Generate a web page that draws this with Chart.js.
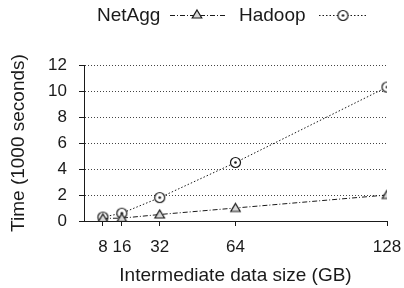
<!DOCTYPE html>
<html>
<head>
<meta charset="utf-8">
<script src="https://cdn.jsdelivr.net/npm/chart.js@4.4.1/dist/chart.umd.min.js"></script>
<style>
  html, body { margin: 0; padding: 0; background: #fff; }
</style>
</head>
<body>
<canvas id="chart" width="404" height="288"></canvas>
<script>
// datos
const sizes = [8, 16, 32, 64, 128];
const netAgg = [0.2, 0.22, 0.5, 1.0, 2.0];
const hadoop = [0.3, 0.6, 1.8, 4.5, 10.3];
const yTicks = [0, 2, 4, 6, 8, 10, 12];
const seriesNames = ["NetAgg", "Hadoop"];

const FONT = "'Liberation Sans', Arial, sans-serif";
const INK = "#1a1a1a";
const dashNetAgg = [5, 2, 1, 2];
const dashHadoop = [1.5, 2];

// marcador circulo con punto
const circleDot = document.createElement("canvas");
circleDot.width = 13;
circleDot.height = 13;
{
  const c = circleDot.getContext("2d");
  c.fillStyle = "#fff";
  c.beginPath();
  c.arc(6.5, 6.5, 5, 0, Math.PI * 2);
  c.fill();
  c.strokeStyle = INK;
  c.lineWidth = 1.2;
  c.stroke();
  c.fillStyle = INK;
  c.beginPath();
  c.arc(6.5, 6.5, 1.3, 0, Math.PI * 2);
  c.fill();
}

const drawTriangle = (ctx, x, y, r) => {
  ctx.beginPath();
  ctx.moveTo(x, y - r);
  ctx.lineTo(x + r * 0.95, y + r * 0.6);
  ctx.lineTo(x - r * 0.95, y + r * 0.6);
  ctx.closePath();
  ctx.fillStyle = "#d8d8d8";
  ctx.fill();
  ctx.stroke();
};

// leyenda arriba: texto y luego muestra de linea
const topLegend = {
  id: "topLegend",
  afterDraw(chart) {
    const ctx = chart.ctx;
    const y = 15;
    ctx.save();
    ctx.font = "19px " + FONT;
    ctx.fillStyle = INK;
    ctx.textBaseline = "middle";
    ctx.textAlign = "left";
    ctx.fillText(seriesNames[0], 97, y + 1);
    ctx.fillText(seriesNames[1], 239, y + 1);

    ctx.strokeStyle = INK;
    ctx.lineWidth = 1;
    ctx.setLineDash(dashNetAgg);
    ctx.beginPath();
    ctx.moveTo(170, y + 0.5);
    ctx.lineTo(225, y + 0.5);
    ctx.stroke();
    ctx.setLineDash(dashHadoop);
    ctx.beginPath();
    ctx.moveTo(319, y + 0.5);
    ctx.lineTo(368, y + 0.5);
    ctx.stroke();
    ctx.setLineDash([]);
    ctx.lineWidth = 1.2;
    drawTriangle(ctx, 197, y, 5);
    ctx.drawImage(circleDot, 343 - 6.5, y - 6);
    ctx.restore();
  }
};

const triangleCanvas = document.createElement("canvas");
triangleCanvas.width = 13;
triangleCanvas.height = 13;
{
  const c = triangleCanvas.getContext("2d");
  c.strokeStyle = INK;
  c.lineWidth = 1.2;
  drawTriangle(c, 6.5, 7, 5);
}

const ctx = document.getElementById("chart");
const chart = new Chart(ctx, {
  type: "line",
  data: {
    labels: sizes,
    datasets: [
      {
        label: seriesNames[0],
        data: sizes.map((s, i) => ({ x: s, y: netAgg[i] })),
        borderColor: INK,
        borderWidth: 1,
        borderDash: dashNetAgg,
        pointStyle: triangleCanvas,
        pointRadius: 6,
        fill: false,
        tension: 0,
      },
      {
        label: seriesNames[1],
        data: sizes.map((s, i) => ({ x: s, y: hadoop[i] })),
        borderColor: INK,
        borderWidth: 1,
        borderDash: dashHadoop,
        pointStyle: circleDot,
        pointRadius: 6,
        fill: false,
        tension: 0,
      },
    ],
  },
  options: {
    responsive: false,
    animation: false,
    layout: { padding: { top: 65, right: 17, left: 0, bottom: 0 } },
    plugins: {
      legend: { display: false },
      tooltip: { enabled: false },
    },
    scales: {
      x: {
        type: "linear",
        min: 0,
        max: 128,
        afterBuildTicks: (s) => { s.ticks = sizes.map((v) => ({ value: v })); },
        afterFit: (s) => { s.height = 67; s.paddingLeft = 0; s.paddingRight = 0; },
        grid: { drawOnChartArea: false, drawTicks: true, tickLength: 5, tickColor: INK, color: INK },
        border: { display: true, color: INK, width: 1 },
        ticks: { color: INK, padding: 11, maxRotation: 0, autoSkip: false, font: { family: FONT, size: 17 } },
        title: {
          display: true,
          text: "Intermediate data size (GB)",
          color: INK,
          font: { family: FONT, size: 19 },
          padding: { top: 0, bottom: 1 },
        },
      },
      y: {
        min: 0,
        max: 12,
        afterBuildTicks: (s) => { s.ticks = yTicks.map((v) => ({ value: v })); },
        afterFit: (s) => { s.width = 84; },
        grid: {
          color: "#444",
          lineWidth: 1,
          drawTicks: true,
          tickLength: 5,
          tickColor: INK,
          tickBorderDash: [],
        },
        border: { display: true, color: INK, width: 1, dash: [1, 2] },
        ticks: { color: INK, padding: 12, font: { family: FONT, size: 17 } },
        title: {
          display: true,
          text: "Time (1000 seconds)",
          color: INK,
          font: { family: FONT, size: 19 },
          padding: { top: 7, bottom: 0 },
        },
      },
    },
  },
  plugins: [topLegend],
});
</script>
</body>
</html>
